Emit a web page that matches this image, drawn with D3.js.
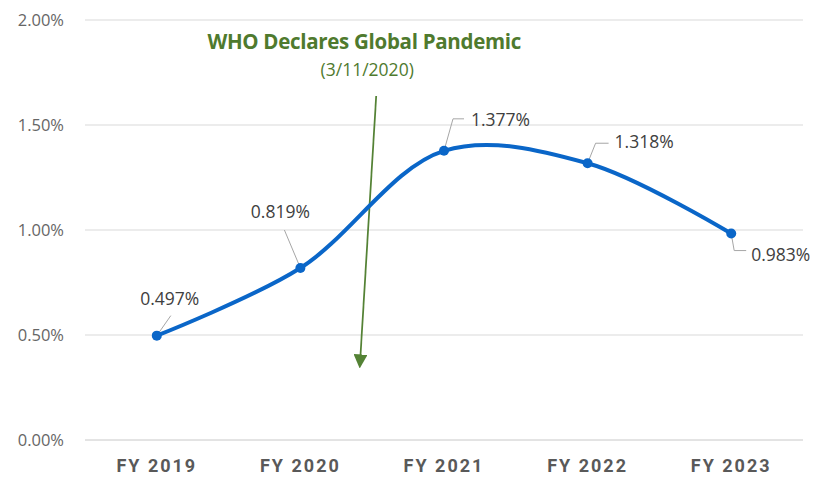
<!DOCTYPE html>
<html>
<head>
<meta charset="utf-8">
<script src="https://cdn.jsdelivr.net/npm/d3@7"></script>
<style>
  body { margin: 0; background: #fff; }
  svg text { font-family: "Open Sans", "Noto Sans", sans-serif; }
</style>
</head>
<body>
<svg id="chart" width="814" height="477"></svg>
<script>
var years = ["FY 2019", "FY 2020", "FY 2021", "FY 2022", "FY 2023"];
var rates = [0.497, 0.819, 1.377, 1.318, 0.983];
var yTicks = [0, 0.5, 1.0, 1.5, 2.0];
// leader line elbow, horizontal run and label centre, relative to each point
var leaders = [
  { ex: 14, ey: -20, hx: 0, lx: 13, ly: -37 },
  { ex: -16, ey: -38, hx: 0, lx: -20, ly: -56 },
  { ex: 9, ey: -32, hx: 11, lx: 27, ly: -31 },
  { ex: 8, ey: -20, hx: 13, lx: 27, ly: -21 },
  { ex: 3, ey: 17, hx: 12, lx: 20, ly: 21 }
];

var svg = d3.select('#chart');
var margin = { left: 85, right: 11, top: 20, bottom: 37 };
var W = 814, H = 477;

var x = d3.scalePoint()
    .domain(years)
    .range([margin.left, W - margin.right])
    .padding(0.5);

var y = d3.scaleLinear()
    .domain([0, 2])
    .range([H - margin.bottom, margin.top]);

// gridlines
svg.append('g')
    .selectAll('line')
    .data(yTicks)
    .enter()
    .append('line')
    .attr('x1', margin.left)
    .attr('x2', W - margin.right)
    .attr('y1', function (d) { return y(d); })
    .attr('y2', function (d) { return y(d); })
    .style('stroke', function (d) { return d === 0 ? '#c8c8c8' : '#d9d9d9'; })
    .style('stroke-width', 1);

// y labels
svg.append('g')
    .selectAll('text')
    .data(yTicks)
    .enter()
    .append('text')
    .attr('x', 64)
    .attr('y', function (d) { return y(d); })
    .attr('dy', '0.35em')
    .attr('text-anchor', 'end')
    .style('font-size', '16.5px')
    .style('fill', '#666666')
    .text(function (d) { return d.toFixed(2) + '%'; });

// x labels
svg.append('g')
    .selectAll('text')
    .data(years)
    .enter()
    .append('text')
    .attr('x', function (d) { return x(d); })
    .attr('y', 472)
    .attr('text-anchor', 'middle')
    .style('font-family', '"Liberation Sans Narrow", "Roboto", sans-serif')
    .style('font-weight', 'bold')
    .style('letter-spacing', '2px')
    .style('font-size', '18px')
    .style('fill', '#595959')
    .text(function (d) { return d; });

// pandemic annotation
var annX = x(years[1]) + 0.5 * x.step();
var defs = svg.append('defs');
defs.append('marker')
    .attr('id', 'arrow')
    .attr('viewBox', '0 0 10 10')
    .attr('refX', 4).attr('refY', 5)
    .attr('markerWidth', 8).attr('markerHeight', 8)
    .attr('markerUnits', 'strokeWidth')
    .attr('orient', 'auto')
    .append('path')
    .attr('d', 'M0,0 L10,5 L0,10 Z')
    .style('fill', '#548235');

svg.append('line')
    .attr('x1', annX + 4)
    .attr('y1', 96)
    .attr('x2', annX - 12)
    .attr('y2', 360)
    .style('stroke', '#548235')
    .style('stroke-width', 1.75)
    .attr('marker-end', 'url(#arrow)');

svg.append('text')
    .attr('x', annX - 8)
    .attr('y', 42)
    .attr('dy', '0.35em')
    .attr('text-anchor', 'middle')
    .style('font-size', '20.5px')
    .style('font-weight', 'bold')
    .style('letter-spacing', '-0.3px')
    .style('fill', '#4f7a2e')
    .text('WHO Declares Global Pandemic');

svg.append('text')
    .attr('x', annX - 5)
    .attr('y', 70)
    .attr('dy', '0.35em')
    .attr('text-anchor', 'middle')
    .style('font-size', '17.5px')
    .style('fill', '#4f7a2e')
    .text('(3/11/2020)');

// line
var pts = years.map(function (d, i) { return [x(d), y(rates[i])]; });
var line = d3.line().curve(d3.curveCatmullRom.alpha(0.5));

svg.append('path')
    .datum(pts)
    .attr('d', line)
    .style('fill', 'none')
    .style('stroke', '#0a66c8')
    .style('stroke-width', 4)
    .style('stroke-linecap', 'round');

// leader lines
svg.append('g')
    .selectAll('polyline')
    .data(pts)
    .enter()
    .append('polyline')
    .attr('points', function (p, i) {
        var l = leaders[i];
        return [p, [p[0] + l.ex, p[1] + l.ey], [p[0] + l.ex + l.hx, p[1] + l.ey]].join(' ');
    })
    .style('fill', 'none')
    .style('stroke', '#a6a6a6')
    .style('stroke-width', 1);

// markers
svg.append('g')
    .selectAll('circle')
    .data(pts)
    .enter()
    .append('circle')
    .attr('cx', function (p) { return p[0]; })
    .attr('cy', function (p) { return p[1]; })
    .attr('r', 5)
    .style('fill', '#0a66c8');

// value labels
svg.append('g')
    .selectAll('text')
    .data(pts)
    .enter()
    .append('text')
    .attr('x', function (p, i) { return p[0] + leaders[i].lx; })
    .attr('y', function (p, i) { return p[1] + leaders[i].ly; })
    .attr('dy', '0.35em')
    .attr('text-anchor', function (p, i) { return leaders[i].hx > 0 ? 'start' : 'middle'; })
    .style('font-size', '17.5px')
    .style('fill', '#404040')
    .text(function (p, i) { return rates[i].toFixed(3) + '%'; });
</script>
</body>
</html>
